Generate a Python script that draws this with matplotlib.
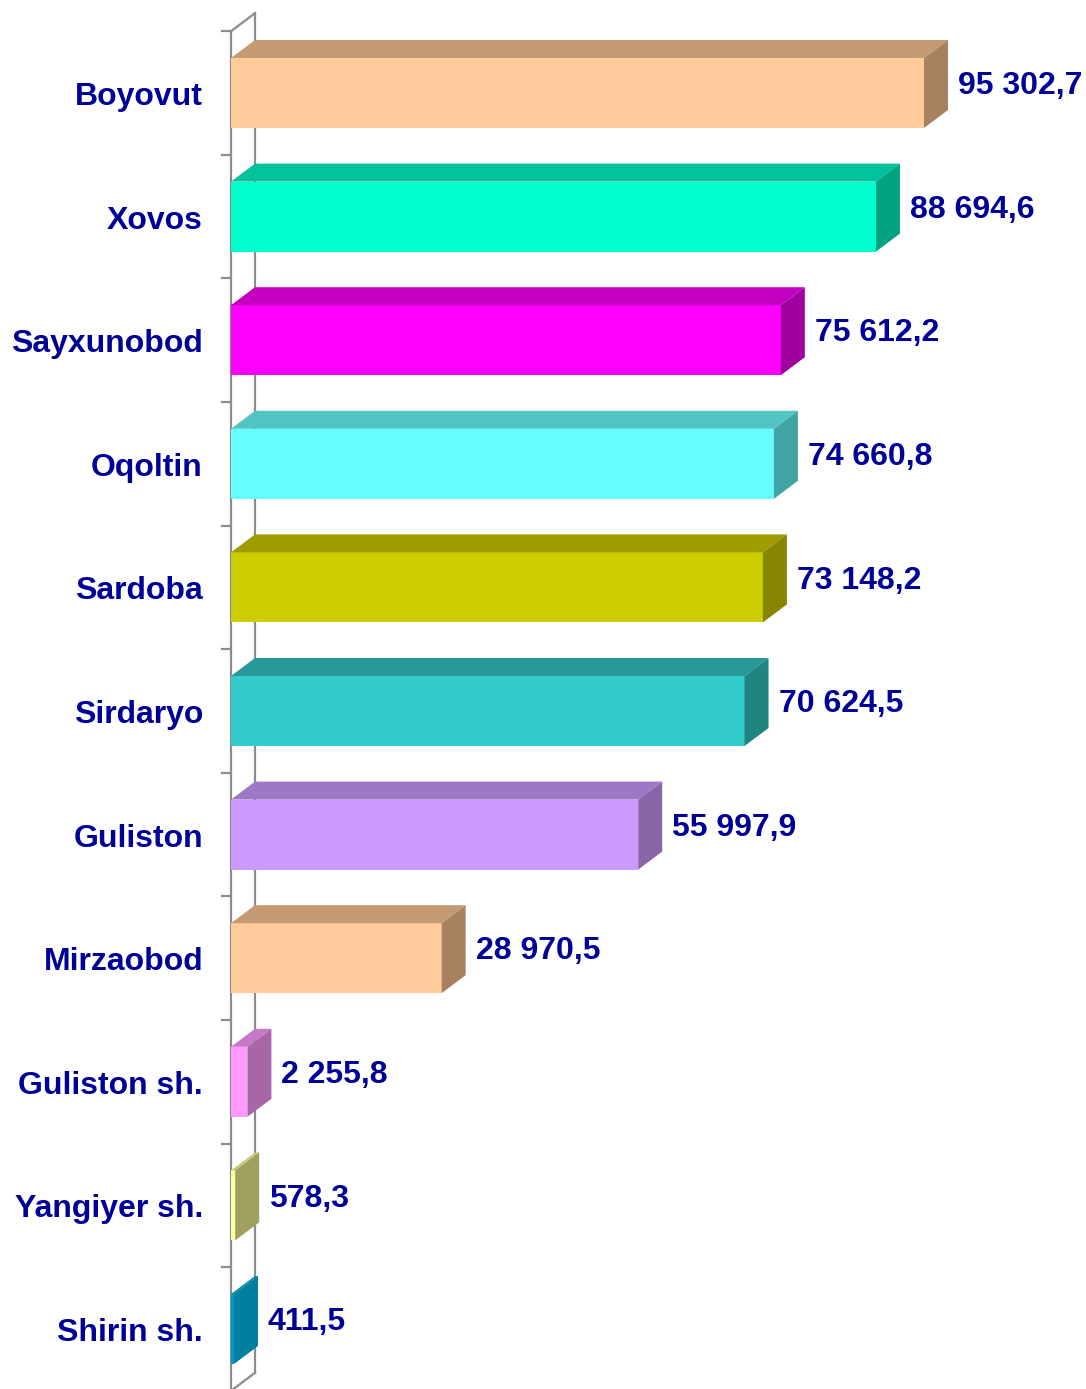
import matplotlib
matplotlib.use("Agg")
import matplotlib.pyplot as plt
from matplotlib.patches import Polygon

categories = ["Boyovut", "Xovos", "Sayxunobod", "Oqoltin", "Sardoba", "Sirdaryo",
              "Guliston", "Mirzaobod", "Guliston sh.", "Yangiyer sh.", "Shirin sh."]
values = [95302.7, 88694.6, 75612.2, 74660.8, 73148.2, 70624.5,
          55997.9, 28970.5, 2255.8, 578.3, 411.5]
value_labels = ["95 302,7", "88 694,6", "75 612,2", "74 660,8", "73 148,2", "70 624,5",
                "55 997,9", "28 970,5", "2 255,8", "578,3", "411,5"]
front_colors = ["#FFCC99", "#00FFCC", "#FF00FF", "#66FFFF", "#CCCC00", "#33CCCC",
                "#CC99FF", "#FFCC99", "#FF99FF", "#FFFF99", "#0099CC"]
top_colors = ["#C49A72", "#00C29C", "#C400C0", "#52C4C4", "#A09C00", "#279999",
              "#9E78C6", "#C49A72", "#C878C8", "#C8C878", "#0088AA"]
side_colors = ["#A88260", "#00A480", "#A0009E", "#40A4A4", "#868600", "#208480",
               "#8866A8", "#A88260", "#A866A6", "#A0A060", "#007FA0"]

W, H = 1086, 1389
fig = plt.figure(figsize=(W / 100, H / 100), dpi=100)
ax = fig.add_axes([0, 0, 1, 1])
ax.set_axis_off()

# scale: pixels per data unit
x0_px = 231
sx = 693 / 95302.7
step_px = 123.6
y0_px = 93
ax.set_xlim(-x0_px / sx, (W - x0_px) / sx)
ax.set_ylim((H - y0_px) / step_px, -y0_px / step_px)

dx = 24 / sx           # depth offset in x (data units)
dy = -18 / step_px     # depth offset in y (category units)
hh = 35 / step_px      # half height of bar front face
n = len(categories)

wall_c = "#8C8C8C"
# left wall
ax.plot([0, 0], [-0.5, n - 0.5], color=wall_c, lw=1.6, zorder=1, solid_capstyle="butt")
ax.plot([dx, dx], [-0.5 + dy, n - 0.5 + dy], color=wall_c, lw=1.6, zorder=1)
ax.plot([0, dx], [-0.5, -0.5 + dy], color=wall_c, lw=1.6, zorder=1)
ax.plot([0, dx], [n - 0.5, n - 0.5 + dy], color=wall_c, lw=1.6, zorder=1)
tick_len = 9 / sx
for k in range(n + 1):
    ax.plot([-tick_len, 0], [k - 0.5, k - 0.5], color=wall_c, lw=1.6, zorder=1)

txt_c = "#000099"
shift = 4 / step_px
for i, (cat, v) in enumerate(zip(categories, values)):
    top = i - hh
    bot = i + hh
    front = Polygon([(0, top), (v, top), (v, bot), (0, bot)], closed=True,
                    facecolor=front_colors[i], edgecolor="none", zorder=3)
    topf = Polygon([(0, top), (v, top), (v + dx, top + dy), (dx, top + dy)], closed=True,
                   facecolor=top_colors[i], edgecolor="none", zorder=3)
    side = Polygon([(v, top), (v, bot), (v + dx, bot + dy), (v + dx, top + dy)], closed=True,
                   facecolor=side_colors[i], edgecolor="none", zorder=3)
    for p in (front, topf, side):
        ax.add_patch(p)
    ax.text(-28 / sx, i + shift, cat, ha="right", va="center", fontsize=23, fontweight="bold",
            color=txt_c, family="Liberation Sans")
    ax.text(v + dx + 10 / sx, i + dy * 0.6 + shift, value_labels[i], ha="left", va="center",
            fontsize=23, fontweight="bold", color=txt_c, family="Liberation Sans")

fig.savefig("out.png", dpi=100, facecolor="white")
